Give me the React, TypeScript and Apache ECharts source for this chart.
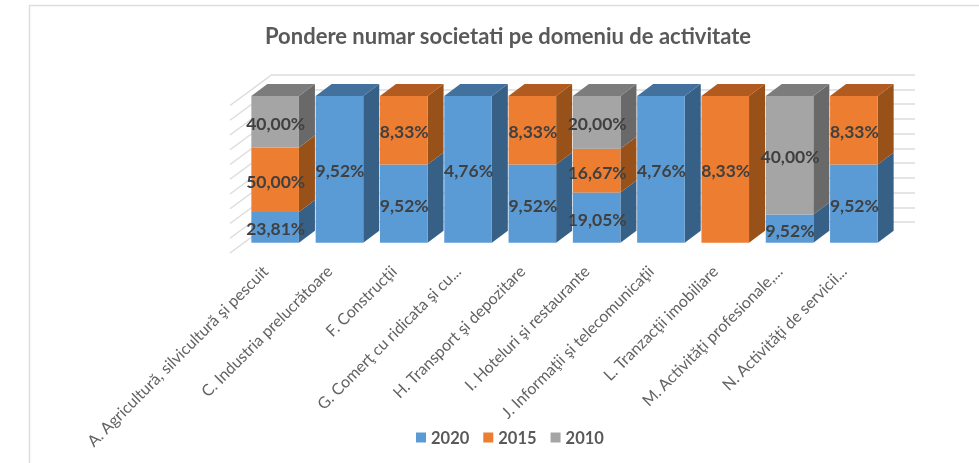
import React, { useEffect, useRef } from "react";
import * as echarts from "echarts";

const titleText = "Pondere numar societati pe domeniu de activitate";
const categories = [
  "A. Agricultură, silvicultură şi pescuit",
  "C. Industria prelucrătoare",
  "F. Construcţii",
  "G. Comerţ cu ridicata şi cu...",
  "H. Transport şi depozitare",
  "I. Hoteluri şi restaurante",
  "J. Informaţii şi telecomunicaţii",
  "L. Tranzacţii imobiliare",
  "M. Activităţi profesionale,...",
  "N. Activităţi de servicii...",
];
const values2020 = [23.81, 9.52, 9.52, 4.76, 9.52, 19.05, 4.76, 0, 9.52, 9.52];
const values2015 = [50.0, 0, 8.33, 0, 8.33, 16.67, 0, 8.33, 0, 8.33];
const values2010 = [40.0, 0, 0, 0, 0, 20.0, 0, 0, 40.0, 0];
const yTicks = [0, 10, 20, 30, 40, 50, 60, 70, 80, 90, 100];

const FONT = "Lato";
const allSeries = [
  { name: "2020", values: values2020, front: "#5B9BD5", side: "#376087", top: "#41719C" },
  { name: "2015", values: values2015, front: "#ED7D31", side: "#975119", top: "#B15B20" },
  { name: "2010", values: values2010, front: "#A5A5A5", side: "#696969", top: "#7C7C7C" },
];
const DX = 16;
const DY = -12;

function segments(idx: number) {
  return categories.map((_, c) => {
    const total = allSeries.reduce((s, r) => s + r.values[c], 0);
    let start = 0;
    for (let i = 0; i < idx; i++) start += allSeries[i].values[c];
    const v = allSeries[idx].values[c];
    const above = allSeries.slice(idx + 1).reduce((s, r) => s + r.values[c], 0);
    return [c, (start / total) * 100, ((start + v) / total) * 100, v, above === 0 ? 1 : 0];
  });
}
const fmt = (v: number) => v.toFixed(2).replace(".", ",") + "%";

export default function App() {
  const ref = useRef<HTMLDivElement>(null);
  useEffect(() => {
    const chart = echarts.init(ref.current!, undefined, { renderer: "svg" });
    const hiddenAxis = { axisLine: { show: false }, axisTick: { show: false }, axisLabel: { show: false }, splitLine: { show: false } };
    const barSeries = allSeries.map((s, idx) => ({
      type: "custom",
      name: s.name,
      xAxisIndex: 0,
      yAxisIndex: 0,
      z: 3,
      clip: false,
      itemStyle: { color: s.front },
      encode: { x: 0, y: [1, 2] },
      data: segments(idx),
      renderItem: (_p: any, api: any) => {
        const v = api.value(3);
        if (!v) return null;
        const c = api.value(0);
        const [cx, y0] = api.coord([c, api.value(1)]);
        const [, y1] = api.coord([c, api.value(2)]);
        const w = api.size([1, 0])[0] * 0.74;
        const xl = cx - w / 2;
        const xr = cx + w / 2;
        const children: any[] = [
          { type: "polygon", shape: { points: [[xr, y0], [xr + DX, y0 + DY], [xr + DX, y1 + DY], [xr, y1]] }, style: { fill: s.side } },
          { type: "rect", shape: { x: xl, y: y1, width: w, height: y0 - y1 }, style: { fill: s.front } },
        ];
        if (api.value(4)) {
          children.push({ type: "polygon", shape: { points: [[xl, y1], [xl + DX, y1 + DY], [xr + DX, y1 + DY], [xr, y1]] }, style: { fill: s.top } });
        }
        children.push({
          type: "text",
          z2: 100,
          style: {
            x: cx + 0.5,
            y: (y0 + y1) / 2 + 1.5,
            text: fmt(v),
            align: "center",
            verticalAlign: "middle",
            fill: "#404040",
            font: `bold 17.5px ${FONT}`,
          },
        });
        return { type: "group", children };
      },
    }));
    chart.setOption({
      animation: false,
      backgroundColor: "#ffffff",
      title: {
        text: titleText,
        left: 260,
        top: 19,
        textStyle: { fontFamily: FONT, fontWeight: "bold", fontSize: 22, color: "#595959" },
      },
      legend: {
        left: 411,
        top: 424,
        icon: "rect",
        itemWidth: 10,
        itemHeight: 10,
        itemGap: 14,
        data: allSeries.map((s) => s.name),
        textStyle: { fontFamily: FONT, fontWeight: "bold", fontSize: 16.5, color: "#595959" },
      },
      grid: [
        { left: 243, right: 93, top: 96, bottom: 220.3 },
        { left: 272, right: 64, top: 74.5, bottom: 241 },
        { left: 232.5, right: 103.5, top: 105, bottom: 210 },
      ],
      xAxis: [
        { type: "category", gridIndex: 0, data: categories, ...hiddenAxis },
        { type: "category", gridIndex: 1, data: categories, ...hiddenAxis },
        {
          type: "category",
          gridIndex: 2,
          data: categories,
          axisLine: { show: false },
          axisTick: { show: false },
          splitLine: { show: false },
          axisLabel: {
            interval: 0,
            rotate: 45,
            margin: 15,
            hideOverlap: false,
            color: "#636363",
            fontFamily: FONT,
            fontSize: 16,
          },
        },
      ],
      yAxis: [
        { type: "value", gridIndex: 0, min: 0, max: 100, interval: 10, ...hiddenAxis },
        {
          type: "value",
          gridIndex: 1,
          min: 0,
          max: 100,
          interval: 10,
          axisLine: { show: false },
          axisTick: { show: false },
          axisLabel: { show: false },
          splitLine: { show: true, lineStyle: { color: "#DDDDDD", width: 1.5 } },
        },
        { type: "value", gridIndex: 2, min: 0, max: 100, interval: 10, ...hiddenAxis },
      ],
      graphic: [
        {
          type: "polyline",
          silent: true,
          shape: { points: [[29.5, 463], [29.5, 5.5], [979, 5.5]] },
          style: { stroke: "#DDDDDD", lineWidth: 1.5, fill: "none" },
        },
      ],
      series: [
        {
          type: "custom",
          xAxisIndex: 1,
          yAxisIndex: 1,
          z: 1,
          clip: false,
          silent: true,
          data: yTicks.map((t) => [0, t]),
          encode: { y: 1 },
          renderItem: (params: any, api: any) => {
            const y = api.coord([0, api.value(1)])[1];
            const x = params.coordSys.x;
            return {
              type: "line",
              shape: { x1: x, y1: y, x2: x - 42, y2: y + 31 },
              style: { stroke: "#DDDDDD", lineWidth: 1.5 },
            };
          },
        },
        ...barSeries,
      ],
    });
    return () => chart.dispose();
  }, []);
  return <div ref={ref} style={{ position: "fixed", left: 0, top: 0, width: 979, height: 463, filter: "blur(0.4px)" }} />;
}
